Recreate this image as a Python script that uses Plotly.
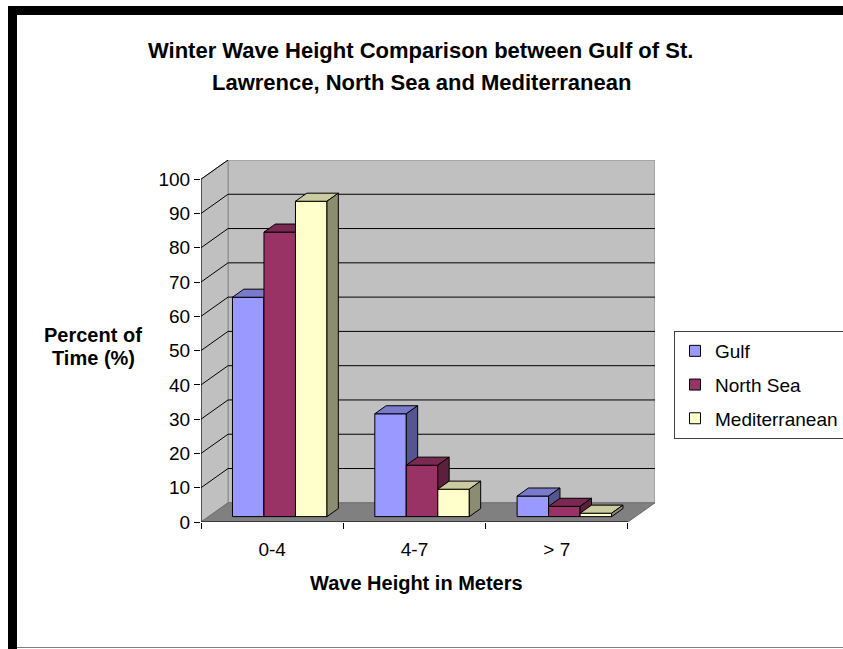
import plotly.graph_objects as go

# ---------------- data ----------------
categories = ["0-4", "4-7", "> 7"]
series_names = ["Gulf", "North Sea", "Mediterranean"]
gulf = [64, 30, 6]
north_sea = [83, 15, 3]
mediterranean = [92, 8, 1]
y_ticks = [0, 10, 20, 30, 40, 50, 60, 70, 80, 90, 100]

# ---------------- style ----------------
front_colors = ["#9999FF", "#993366", "#FFFFCC"]
top_colors = ["#7A7ACC", "#7A2952", "#CCCCA3"]
side_colors = ["#55558F", "#5C1F3D", "#8C8C70"]
WALL = "#C0C0C0"
FLOOR = "#808080"
FONT = "Liberation Sans, Arial, sans-serif"

W, H = 843, 649
ML, MR, MT, MB = 201, 188, 160, 127
YMAX = 100
DX, DY = 0.19, 5.6          # depth offset of back wall (data units)
T0, T1 = 0.28, 0.70         # bar depth (fraction of wall depth)
GROUP = 0.664               # group width in category units
n_cat = len(categories)
n_ser = len(series_names)

x_lo, x_hi = -0.5, n_cat - 0.5
plot_w = W - ML - MR
plot_h = H - MT - MB


def px2x(px):
    return (px - ML) / plot_w


def px2y(py):
    return (H - MB - py) / plot_h


fig = go.Figure()


def poly(xs, ys, fill, line="#000000", lw=1):
    fig.add_trace(go.Scatter(x=xs, y=ys, mode="lines", fill="toself",
                             fillcolor=fill, line=dict(color=line, width=lw),
                             hoverinfo="skip", showlegend=False))


def seg(xs, ys, color="#000000", lw=1):
    fig.add_trace(go.Scatter(x=xs, y=ys, mode="lines",
                             line=dict(color=color, width=lw),
                             hoverinfo="skip", showlegend=False))


# walls
poly([x_lo + DX, x_hi + DX, x_hi + DX, x_lo + DX, x_lo + DX],
     [DY, DY, YMAX + DY, YMAX + DY, DY], WALL, "#8C8C8C")
poly([x_lo, x_lo, x_lo + DX, x_lo + DX, x_lo],
     [0, YMAX, YMAX + DY, DY, 0], WALL, "#8C8C8C")
poly([x_lo, x_hi, x_hi + DX, x_lo + DX, x_lo],
     [0, 0, DY, DY, 0], FLOOR, "#6E6E6E")

# gridlines on back wall and side wall
gx, gy, sx, sy = [], [], [], []
for v in y_ticks[1:-1]:
    gx += [x_lo + DX, x_hi + DX, None]
    gy += [v + DY, v + DY, None]
for v in y_ticks[1:]:
    sx += [x_lo, x_lo + DX, None]
    sy += [v, v + DY, None]
seg(gx, gy)
seg(sx, sy)

# front axis lines
seg([x_lo, x_lo], [0, YMAX])
seg([x_lo, x_hi], [0, 0])

# bars
series_vals = [gulf, north_sea, mediterranean]
bw = GROUP / n_ser
for s, vals in enumerate(series_vals):
    fx, fy, tx, ty, sdx, sdy = [], [], [], [], [], []
    for c, v in enumerate(vals):
        xl = c - GROUP / 2 + s * bw
        xr = xl + bw
        a0x, a0y = T0 * DX, T0 * DY
        a1x, a1y = T1 * DX, T1 * DY
        fx += [xl + a0x, xr + a0x, xr + a0x, xl + a0x, xl + a0x, None]
        fy += [a0y, a0y, v + a0y, v + a0y, a0y, None]
        tx += [xl + a0x, xr + a0x, xr + a1x, xl + a1x, xl + a0x, None]
        ty += [v + a0y, v + a0y, v + a1y, v + a1y, v + a0y, None]
        sdx += [xr + a0x, xr + a1x, xr + a1x, xr + a0x, xr + a0x, None]
        sdy += [a0y, a1y, v + a1y, v + a0y, a0y, None]
    poly(fx, fy, front_colors[s])
    poly(tx, ty, top_colors[s])
    poly(sdx, sdy, side_colors[s])

# legend entries
for s, name in enumerate(series_names):
    fig.add_trace(go.Scatter(x=[None], y=[None], mode="markers", name=name,
                             legendgroup=name,
                             marker=dict(symbol="square", size=11,
                                         color=front_colors[s],
                                         line=dict(color="#000000", width=1))))

# invisible trace for the boundary-tick axis
fig.add_trace(go.Scatter(x=[None], y=[None], xaxis="x2", showlegend=False,
                         hoverinfo="skip"))

annotations = [
    dict(text="<b>Winter Wave Height Comparison between Gulf of St.</b>",
         x=px2x(420), y=px2y(50), font=dict(size=22)),
    dict(text="<b>Lawrence, North Sea and Mediterranean</b>",
         x=px2x(421), y=px2y(82), font=dict(size=22)),
    dict(text="<b>Percent of</b>", x=px2x(93), y=px2y(335), font=dict(size=20)),
    dict(text="<b>Time (%)</b>", x=px2x(93), y=px2y(358), font=dict(size=20)),
    dict(text="<b>Wave Height in Meters</b>", x=px2x(416), y=px2y(583),
         font=dict(size=20)),
]
for a in annotations:
    a.update(xref="paper", yref="paper", showarrow=False,
             xanchor="center", yanchor="middle")
    a["font"].update(family=FONT, color="#000000")

shapes = [
    dict(type="rect", xref="paper", yref="paper", x0=px2x(8), x1=px2x(W),
         y0=px2y(6), y1=px2y(15), fillcolor="#000000", line=dict(width=0)),
    dict(type="rect", xref="paper", yref="paper", x0=px2x(8), x1=px2x(17),
         y0=px2y(6), y1=px2y(649), fillcolor="#000000", line=dict(width=0)),
    dict(type="line", xref="paper", yref="paper", x0=px2x(17), x1=px2x(W),
         y0=px2y(647.5), y1=px2y(647.5), line=dict(color="#808080", width=1)),
]

fig.update_layout(
    width=W, height=H, autosize=False,
    margin=dict(l=ML, r=MR, t=MT, b=MB, pad=0, autoexpand=False),
    paper_bgcolor="#FFFFFF", plot_bgcolor="#FFFFFF",
    font=dict(family=FONT, color="#000000"),
    showlegend=True,
    legend=dict(x=px2x(674), y=px2y(331), xanchor="left", yanchor="top",
                bgcolor="#FFFFFF", bordercolor="#404040", borderwidth=1,
                font=dict(size=19, family=FONT), itemwidth=30,
                traceorder="grouped", tracegroupgap=6),
    xaxis=dict(range=[x_lo, x_hi + DX], tickvals=list(range(n_cat)),
               ticktext=categories, ticks="outside", ticklen=10,
               tickcolor="rgba(0,0,0,0)", showgrid=False, zeroline=False,
               showline=False, tickfont=dict(size=19), fixedrange=True),
    xaxis2=dict(range=[x_lo, x_hi + DX], overlaying="x", anchor="y",
                side="bottom", tickvals=[x_lo + i for i in range(n_cat + 1)],
                ticks="outside", ticklen=6, tickcolor="#000000",
                showticklabels=False, showgrid=False, zeroline=False,
                showline=False),
    yaxis=dict(range=[0, YMAX + DY], tickvals=y_ticks, ticks="outside",
               ticklen=6, tickcolor="#000000", showgrid=False,
               zeroline=False, showline=False, tickfont=dict(size=19)),
    annotations=annotations,
    shapes=shapes,
)

fig.write_html(
    "out.html",
    config={"displayModeBar": False, "responsive": False, "staticPlot": True},
    post_script=(
        "document.documentElement.style.overflow='hidden';"
        "document.body.style.margin='0';"
        "document.body.style.overflow='hidden';"
    ),
)
